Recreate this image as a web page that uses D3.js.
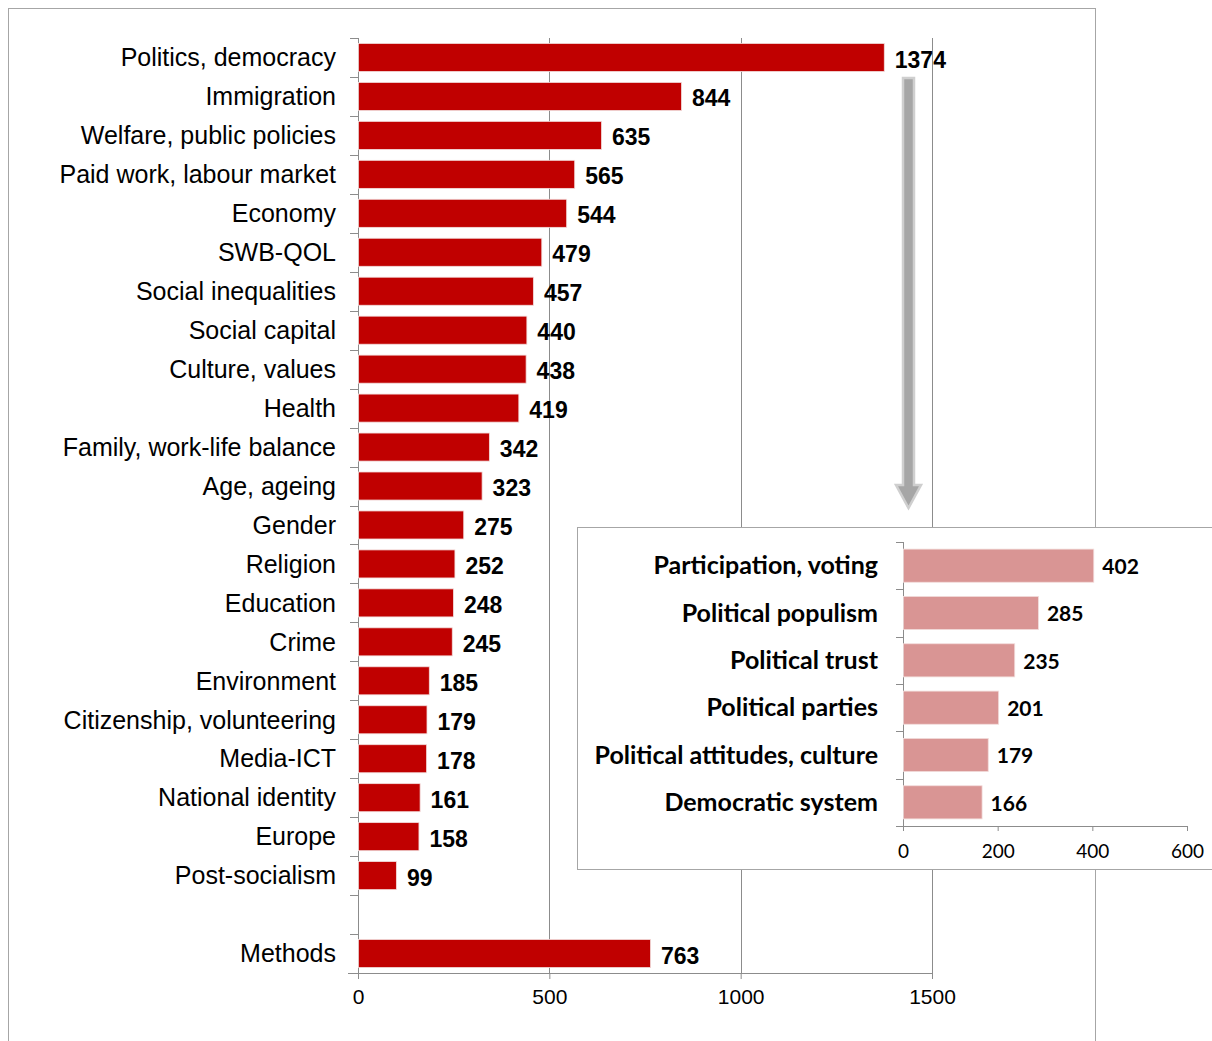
<!DOCTYPE html>
<html>
<head>
<meta charset="utf-8">
<script src="https://cdn.jsdelivr.net/npm/d3@7"></script>
<style>
  body { margin: 0; background: #fff; }
  svg { display: block; }
  .mainLabel { font-family: "Liberation Sans", Arial, sans-serif; font-size: 25px; fill: #000; }
  .mainValue { font-family: "Liberation Sans", Arial, sans-serif; font-size: 23px; font-weight: bold; fill: #000; }
  .mainTick { font-family: "Liberation Sans", Arial, sans-serif; font-size: 21px; fill: #000; }
  .insetLabel { font-family: Lato, "Open Sans", sans-serif; font-size: 25px; font-weight: bold; fill: #000; }
  .insetValue { font-family: Lato, "Open Sans", sans-serif; font-size: 21px; font-weight: bold; fill: #000; }
  .insetTick { font-family: Lato, "Open Sans", sans-serif; font-size: 19px; fill: #000; }
</style>
</head>
<body>
<script>
// main chart data (blank entry keeps the gap before Methods)
var topics = ["Politics, democracy", "Immigration", "Welfare, public policies",
  "Paid work, labour market", "Economy", "SWB-QOL", "Social inequalities",
  "Social capital", "Culture, values", "Health", "Family, work-life balance",
  "Age, ageing", "Gender", "Religion", "Education", "Crime", "Environment",
  "Citizenship, volunteering", "Media-ICT", "National identity", "Europe",
  "Post-socialism", "", "Methods"];
var topicCounts = [1374, 844, 635, 565, 544, 479, 457, 440, 438, 419, 342,
  323, 275, 252, 248, 245, 185, 179, 178, 161, 158, 99, null, 763];
var mainTicks = [0, 500, 1000, 1500];

// inset: breakdown of politics
var politicsTopics = ["Participation, voting", "Political populism", "Political trust",
  "Political parties", "Political attitudes, culture", "Democratic system"];
var politicsCounts = [402, 285, 235, 201, 179, 166];
var insetTicks = [0, 200, 400, 600];

var svgWidth = 1212;
var svgHeight = 1041;
var gray = "#8c8c8c";

var svg = d3.select("body")
  .append("svg")
  .attr("width", svgWidth)
  .attr("height", svgHeight);

// outer chart border
svg.append("rect")
  .attr("x", 8.5)
  .attr("y", 8.5)
  .attr("width", 1087)
  .attr("height", 1050)
  .attr("fill", "#fff")
  .attr("stroke", "#a6a6a6");

// ---- main chart ----
var xScale = d3.scaleLinear()
  .domain([0, 1500])
  .range([358, 932]);

var yScale = d3.scaleBand()
  .domain(d3.range(topics.length))
  .range([38, 973])
  .paddingInner(0.28)
  .paddingOuter(0.14);

var mainGroup = svg.append("g");

// vertical gridlines
mainGroup.selectAll(".grid")
  .data(mainTicks.slice(1))
  .enter()
  .append("line")
  .attr("x1", d => Math.round(xScale(d)) + 0.5)
  .attr("x2", d => Math.round(xScale(d)) + 0.5)
  .attr("y1", 38)
  .attr("y2", 973)
  .attr("stroke", gray);

// bottom axis
var xAxis = d3.axisBottom(xScale)
  .tickValues(mainTicks)
  .tickFormat(d3.format("d"))
  .tickSize(6)
  .tickPadding(10)
  .tickSizeOuter(0);

var xAxisGroup = mainGroup.append("g")
  .attr("transform", "translate(0, 973)")
  .call(xAxis);
xAxisGroup.select(".domain").remove();
xAxisGroup.append("line")
  .attr("x1", 348).attr("x2", 932)
  .attr("y1", 0.5).attr("y2", 0.5)
  .attr("stroke", gray);
xAxisGroup.selectAll(".tick line").attr("stroke", gray);
xAxisGroup.selectAll(".tick text")
  .attr("class", "mainTick")
  .attr("font-family", null)
  .attr("font-size", null);

// left axis line with ticks at band boundaries
mainGroup.append("line")
  .attr("x1", 358.5).attr("x2", 358.5)
  .attr("y1", 38).attr("y2", 973)
  .attr("stroke", gray);
var boundaries = d3.range(topics.length + 1).map(i => 38 + i * yScale.step());
mainGroup.selectAll(".ytick")
  .data(boundaries)
  .enter()
  .append("line")
  .attr("x1", 350).attr("x2", 358)
  .attr("y1", d => Math.round(d) + 0.5)
  .attr("y2", d => Math.round(d) + 0.5)
  .attr("stroke", gray);

// bars
var rows = topics.map((t, i) => ({ name: t, value: topicCounts[i], i: i }))
  .filter(d => d.value !== null);

mainGroup.selectAll(".bar")
  .data(rows)
  .enter()
  .append("rect")
  .attr("x", xScale(0) + 0.5)
  .attr("y", d => yScale(d.i))
  .attr("width", d => xScale(d.value) - xScale(0))
  .attr("height", yScale.bandwidth())
  .attr("fill", "#c00000")
  .attr("stroke", "#f2dcdb")
  .attr("stroke-width", 0.8);

// category labels
mainGroup.selectAll(".mainLabel")
  .data(rows)
  .enter()
  .append("text")
  .attr("class", "mainLabel")
  .attr("x", 336)
  .attr("y", d => yScale(d.i) + yScale.bandwidth() / 2)
  .attr("dy", "0.35em")
  .attr("text-anchor", "end")
  .text(d => d.name);

// value labels
mainGroup.selectAll(".mainValue")
  .data(rows)
  .enter()
  .append("text")
  .attr("class", "mainValue")
  .attr("x", d => xScale(d.value) + 11)
  .attr("y", d => yScale(d.i) + yScale.bandwidth() / 2 + 2)
  .attr("dy", "0.35em")
  .text(d => d.value);

// grey arrow pointing down to the inset
var arrow = svg.append("g");
arrow.append("path")
  .attr("d", "M903,78 L914,78 L914,485 L921,485 L908.5,508 L896,485 L903,485 Z")
  .attr("fill", "#a6a6a6")
  .attr("stroke", "#cfcfcf")
  .attr("stroke-width", 2.5);

// ---- inset chart ----
var inset = svg.append("g");

inset.append("rect")
  .attr("x", 577.5)
  .attr("y", 527.5)
  .attr("width", 660)
  .attr("height", 342)
  .attr("fill", "#fff")
  .attr("stroke", "#a6a6a6");

var xInset = d3.scaleLinear()
  .domain([0, 600])
  .range([903, 1187]);

var yInset = d3.scaleBand()
  .domain(d3.range(politicsTopics.length))
  .range([542, 826])
  .paddingInner(0.3)
  .paddingOuter(0.15);

var xInsetAxis = d3.axisBottom(xInset)
  .tickValues(insetTicks)
  .tickSize(5)
  .tickPadding(14)
  .tickSizeOuter(0);

var xInsetGroup = inset.append("g")
  .attr("transform", "translate(0, 826)")
  .call(xInsetAxis);
xInsetGroup.select(".domain").remove();
xInsetGroup.append("line")
  .attr("x1", 896).attr("x2", 1187)
  .attr("y1", 0.5).attr("y2", 0.5)
  .attr("stroke", gray);
xInsetGroup.selectAll(".tick line").attr("stroke", gray);
xInsetGroup.selectAll(".tick text")
  .attr("class", "insetTick")
  .attr("font-family", null)
  .attr("font-size", null);

inset.append("line")
  .attr("x1", 903.5).attr("x2", 903.5)
  .attr("y1", 542).attr("y2", 826)
  .attr("stroke", gray);
var insetBoundaries = d3.range(politicsTopics.length + 1).map(i => 542 + i * yInset.step());
inset.selectAll(".itick")
  .data(insetBoundaries)
  .enter()
  .append("line")
  .attr("x1", 896).attr("x2", 903)
  .attr("y1", d => Math.round(d) + 0.5)
  .attr("y2", d => Math.round(d) + 0.5)
  .attr("stroke", gray);

var insetRows = politicsTopics.map((t, i) => ({ name: t, value: politicsCounts[i], i: i }));

inset.selectAll(".ibar")
  .data(insetRows)
  .enter()
  .append("rect")
  .attr("x", xInset(0) + 0.5)
  .attr("y", d => yInset(d.i))
  .attr("width", d => xInset(d.value) - xInset(0))
  .attr("height", yInset.bandwidth())
  .attr("fill", "#d99594")
  .attr("stroke", "#f2dcdb")
  .attr("stroke-width", 0.8);

inset.selectAll(".insetLabel")
  .data(insetRows)
  .enter()
  .append("text")
  .attr("class", "insetLabel")
  .attr("x", 878)
  .attr("y", d => yInset(d.i) + yInset.bandwidth() / 2)
  .attr("dy", "0.35em")
  .attr("text-anchor", "end")
  .text(d => d.name);

inset.selectAll(".insetValue")
  .data(insetRows)
  .enter()
  .append("text")
  .attr("class", "insetValue")
  .attr("x", d => xInset(d.value) + 9)
  .attr("y", d => yInset(d.i) + yInset.bandwidth() / 2 + 1)
  .attr("dy", "0.35em")
  .text(d => d.value);
</script>
</body>
</html>
